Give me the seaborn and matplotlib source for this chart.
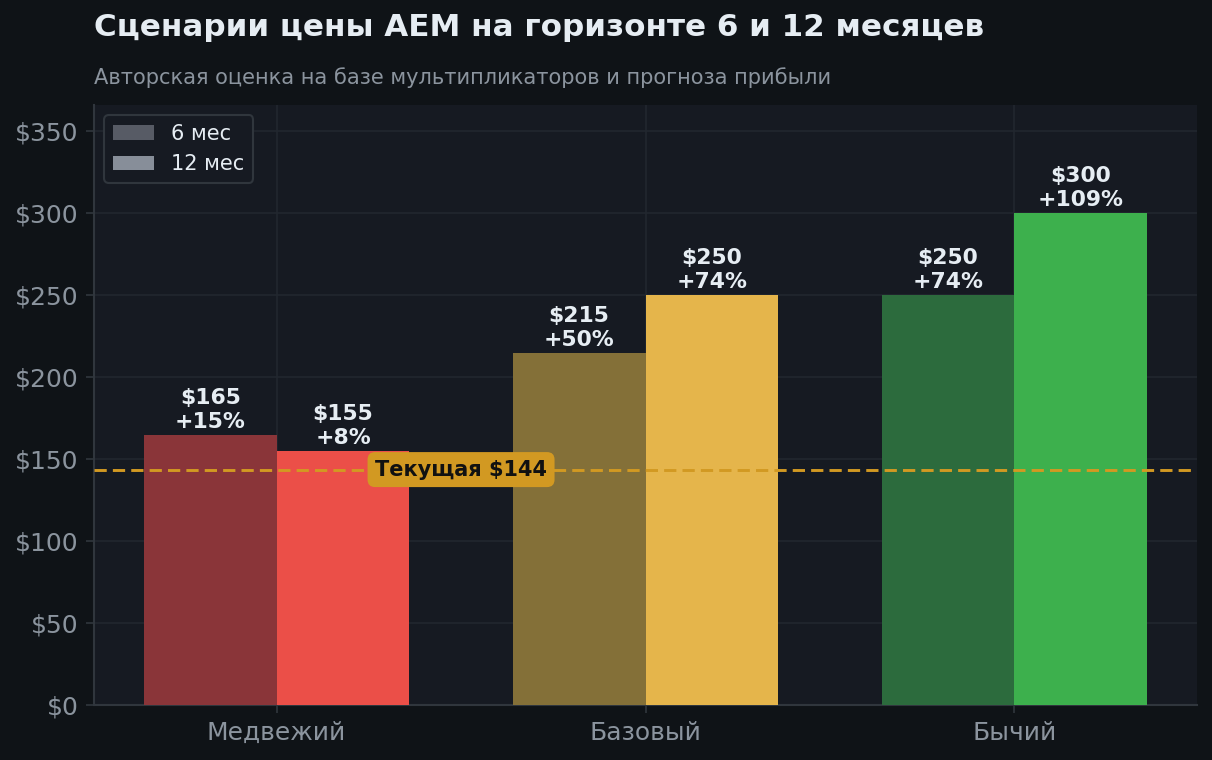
import matplotlib
matplotlib.use("Agg")
import matplotlib.pyplot as plt
import seaborn as sns
import pandas as pd
from matplotlib.ticker import FuncFormatter

# Data
scenarios = ["Медвежий", "Базовый", "Бычий"]
horizons = ["6 мес", "12 мес"]
price_6m = [165, 215, 250]
price_12m = [155, 250, 300]
pct_6m = ["+15%", "+50%", "+74%"]
pct_12m = ["+8%", "+74%", "+109%"]
current_price = 143.6

# Colours
fig_bg = "#0f1317"
ax_bg = "#161a22"
grid_col = "#22272f"
text_col = "#e6edf3"
muted = "#8b949e"
dark_6m = ["#8a3539", "#847038", "#2c6b3d"]
bright_12m = ["#eb4f48", "#e5b54b", "#3db04d"]
legend_grey = ["#575b65", "#878e99"]
cur_col = "#d29922"

df = pd.DataFrame({
    "scenario": scenarios * 2,
    "horizon": [horizons[0]] * 3 + [horizons[1]] * 3,
    "price": price_6m + price_12m,
})

sns.set_style("dark")
plt.rcParams["font.family"] = ["DejaVu Sans"]

fig, ax = plt.subplots(figsize=(8.08, 760 / 150), dpi=150)
fig.patch.set_facecolor(fig_bg)
ax.set_facecolor(ax_bg)
fig.subplots_adjust(left=94 / 1212, right=1197 / 1212, top=1 - 105 / 760, bottom=1 - 705 / 760)

sns.barplot(data=df, x="scenario", y="price", hue="horizon", order=scenarios,
            hue_order=horizons, palette=legend_grey, width=0.72, saturation=1,
            ax=ax, zorder=3)

# recolour bars per scenario and add labels
labels = [pct_6m, pct_12m]
prices = [price_6m, price_12m]
for h, cont in enumerate(ax.containers):
    for i, bar in enumerate(cont):
        bar.set_facecolor(dark_6m[i] if h == 0 else bright_12m[i])
        bar.set_edgecolor("none")
        ax.text(bar.get_x() + bar.get_width() / 2, bar.get_height() + 1.8,
                f"${prices[h][i]}\n{labels[h][i]}", ha="center", va="bottom",
                color=text_col, fontsize=10.5, fontweight="bold", linespacing=1.25,
                zorder=5)

# current price line
ax.axhline(current_price, color=cur_col, linestyle=(0, (4.2, 2.1)), linewidth=1.4, zorder=4)
ax.text(0.5, current_price, f"Текущая ${current_price:.0f}", ha="center", va="center",
        fontsize=10, fontweight="bold", color="#111111", zorder=6,
        bbox=dict(boxstyle="round,pad=0.36", facecolor=cur_col, edgecolor="none"))

ax.set_ylim(0, 366)
ax.set_xlim(-0.495, 2.495)
ax.set_yticks(range(0, 351, 50))
ax.yaxis.set_major_formatter(FuncFormatter(lambda v, p: f"${v:.0f}"))
ax.set_xlabel("")
ax.set_ylabel("")
ax.tick_params(axis="both", colors="#30363d", labelcolor=muted, labelsize=12,
               length=4, width=0.8, left=True, bottom=True)
ax.grid(True, color=grid_col, linewidth=0.8, zorder=0)
ax.set_axisbelow(True)
for s in ["top", "right"]:
    ax.spines[s].set_visible(False)
for s in ["left", "bottom"]:
    ax.spines[s].set_visible(True)
    ax.spines[s].set_color("#30363d")
    ax.spines[s].set_linewidth(1.0)

leg = ax.legend(loc="upper left", fontsize=10, frameon=True, facecolor=ax_bg,
                edgecolor="#30363d", labelcolor=text_col, title=None)
leg.get_frame().set_alpha(1)
for p in leg.get_patches():
    p.set_edgecolor("none")

fig.text(94 / 1212, 1 - 28 / 760, "Сценарии цены AEM на горизонте 6 и 12 месяцев",
         ha="left", va="center", fontsize=14.9, fontweight="bold", color=text_col)
fig.text(94 / 1212, 1 - 78 / 760, "Авторская оценка на базе мультипликаторов и прогноза прибыли",
         ha="left", va="center", fontsize=10.1, color=muted)

fig.savefig("out.png", dpi=150, facecolor=fig_bg)
